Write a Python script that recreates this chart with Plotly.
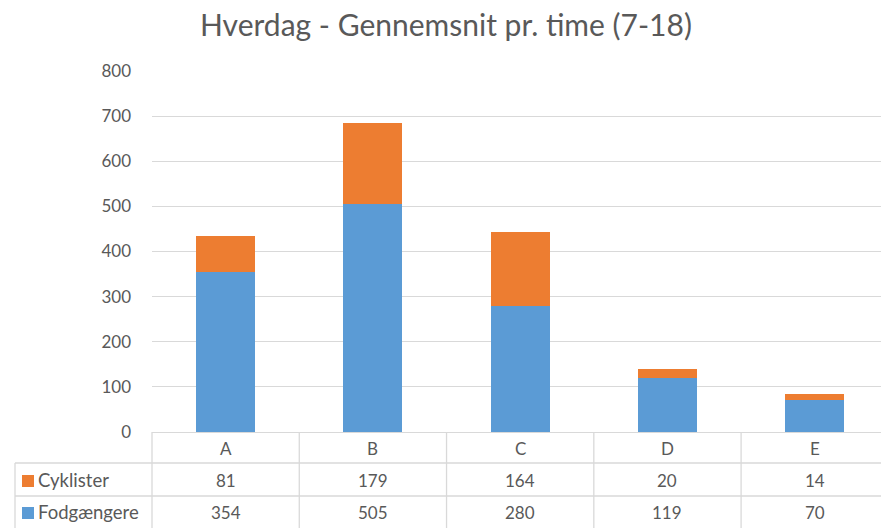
import plotly.graph_objects as go

categories = ["A", "B", "C", "D", "E"]
fodgaengere = [354, 505, 280, 119, 70]
cyklister = [81, 179, 164, 20, 14]
series_names = ["Cyklister", "Fodgængere"]
title_text = "Hverdag - Gennemsnit pr. time (7-18)"
y_ticks = [0, 100, 200, 300, 400, 500, 600, 700, 800]

BLUE = "#5B9BD5"
ORANGE = "#ED7D31"
TXT = "#595959"
GRID = "#D9D9D9"
FONT = "Lato, Carlito, Calibri, sans-serif"

W, H = 881, 528
# plot area in window pixels
PL, PR, PT, PB = 152, 881, 71, 432
ML, MR, MT, MB = PL, W - PR, PT, H - PB
PW = PR - PL
PH = PB - PT
XR = [-0.5, 4.45]

def px_x(px):
    return (px - PL) / PW

def px_y(py):
    return (PB - py) / PH

def cat_x(v):
    return (v - XR[0]) / (XR[1] - XR[0])

fig = go.Figure()
fig.add_trace(go.Bar(x=categories, y=fodgaengere, name=series_names[1],
                     marker=dict(color=BLUE, line=dict(width=0)), width=0.4))
fig.add_trace(go.Bar(x=categories, y=cyklister, name=series_names[0],
                     marker=dict(color=ORANGE, line=dict(width=0)), width=0.4))

shapes = []
line = dict(color=GRID, width=1.3)
y_bottom = px_y(H + 2)
# vertical boundaries of category columns
for i in range(len(categories)):
    xp = cat_x(i - 0.5)
    shapes.append(dict(type="line", xref="paper", yref="paper", x0=xp, x1=xp,
                       y0=0, y1=y_bottom, line=line, layer="above"))
# legend column left border
shapes.append(dict(type="line", xref="paper", yref="paper", x0=px_x(15), x1=px_x(15),
                   y0=px_y(463), y1=y_bottom, line=line))
# horizontal row lines
for py in (463, 496):
    shapes.append(dict(type="line", xref="paper", yref="paper", x0=px_x(15), x1=1,
                       y0=px_y(py), y1=px_y(py), line=line))
# legend squares
for (col, yc) in ((ORANGE, 481), (BLUE, 513)):
    shapes.append(dict(type="rect", xref="paper", yref="paper",
                       x0=px_x(22), x1=px_x(34), y0=px_y(yc + 6), y1=px_y(yc - 6),
                       fillcolor=col, line=dict(width=0)))

fnum = dict(size=17, color=TXT, family=FONT)
annotations = []
# category header row
for i, c in enumerate(categories):
    annotations.append(dict(x=i, xref="x", y=px_y(448), yref="paper", text=c,
                            xanchor="center", yanchor="middle",
                            showarrow=False, font=fnum))
# data rows
for vals, yc in ((cyklister, 480), (fodgaengere, 512)):
    for i, v in enumerate(vals):
        annotations.append(dict(x=i, xref="x", y=px_y(yc), yref="paper", text=str(v),
                                xanchor="center", yanchor="middle",
                                showarrow=False, font=fnum))
# legend labels
for name, yc in ((series_names[0], 480), (series_names[1], 512)):
    annotations.append(dict(x=px_x(36), xref="paper", xanchor="left", y=px_y(yc), yref="paper",
                            yanchor="middle", text=name, showarrow=False,
                            font=dict(size=18.5, color=TXT, family=FONT)))

fig.update_layout(
    width=W, height=H,
    margin=dict(l=ML, r=MR, t=MT, b=MB, pad=0, autoexpand=False),
    paper_bgcolor="white", plot_bgcolor="white",
    barmode="stack", showlegend=False,
    title=dict(text=title_text, x=446 / W, xanchor="center",
               y=1 - 25 / H, yanchor="middle",
               font=dict(size=30, color=TXT, family=FONT)),
    xaxis=dict(range=XR, showticklabels=False, ticks="", showgrid=False,
               showline=True, linecolor=GRID, linewidth=1.3, zeroline=False, fixedrange=True),
    yaxis=dict(range=[0, 800], tickvals=y_ticks, showgrid=True, gridcolor=GRID, gridwidth=1.3,
               zeroline=False, showline=False, ticks="", ticklabelstandoff=20,
               tickfont=fnum, automargin=False),
    shapes=shapes, annotations=annotations,
)

fig.write_html("out.html",
               config={"displayModeBar": False},
               post_script="document.body.style.margin='0px';document.body.style.overflow='hidden';")
